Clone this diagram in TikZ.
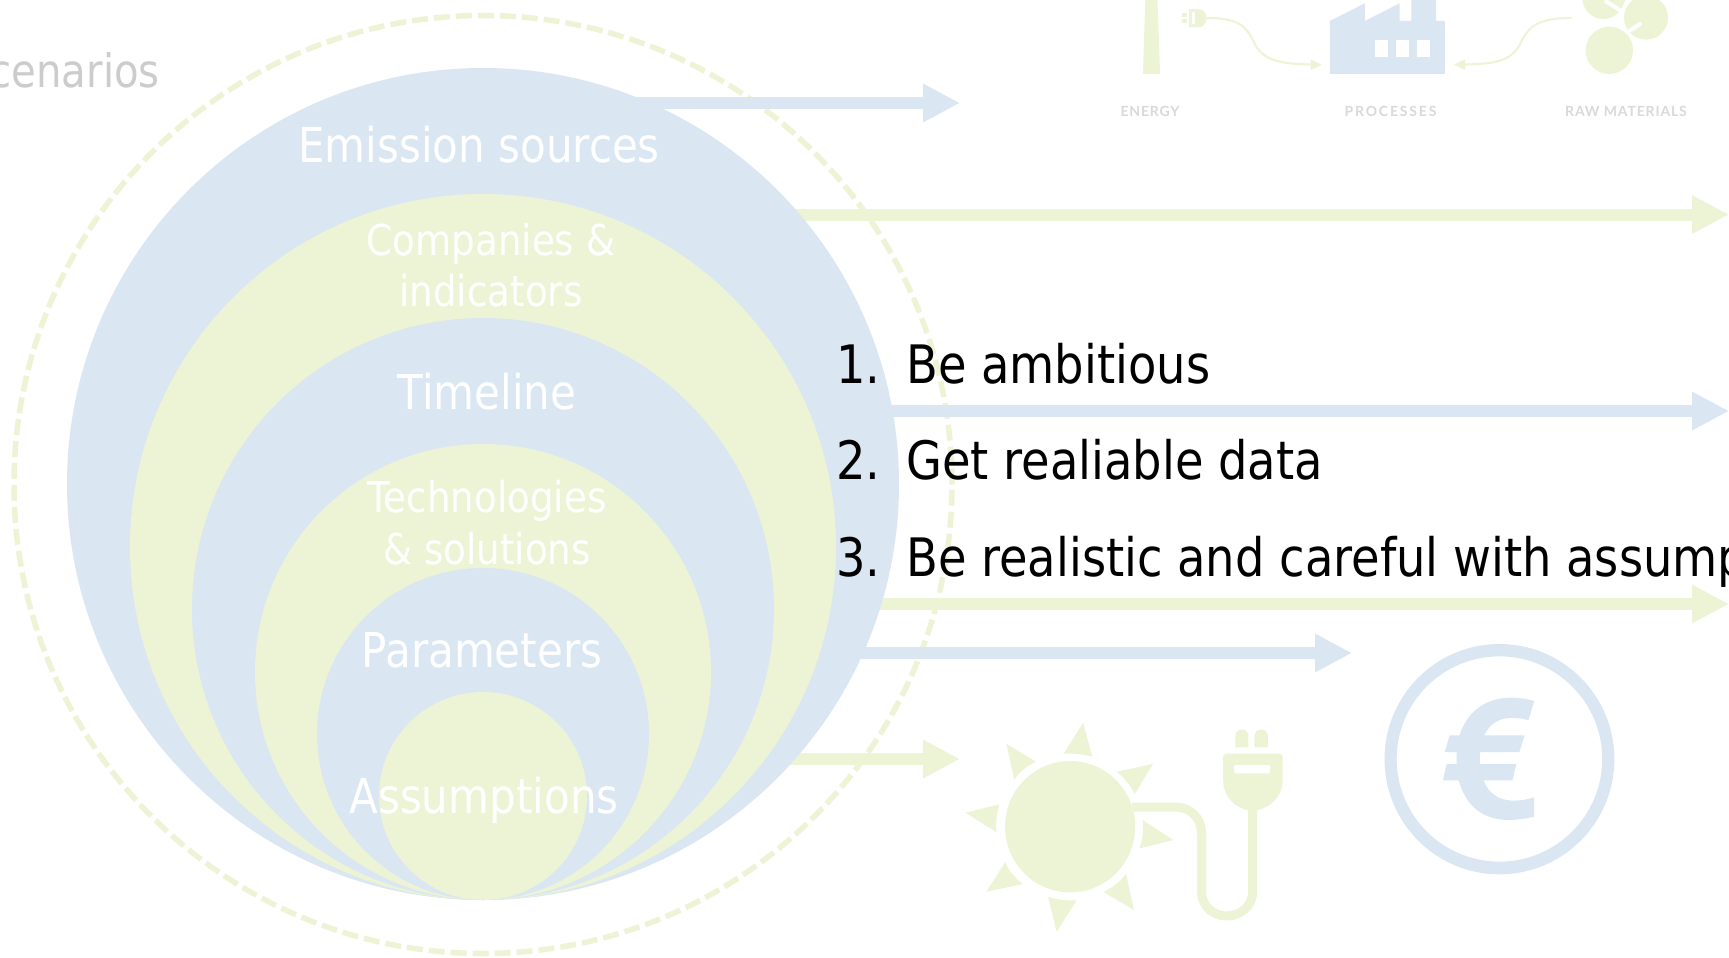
\documentclass[tikz,border=0pt]{standalone}
\usepackage{fontspec}
\usetikzlibrary{arrows.meta}
\newfontfamily\tah[FakeStretch=0.875]{DejaVu Sans}
\newfontfamily\icolab[LetterSpace=6]{Lato Bold}
\newfontfamily\icolabw[LetterSpace=13]{Lato Bold}
\definecolor{bluc}{HTML}{DAE6F2}
\definecolor{grec}{HTML}{EDF4D5}
\tikzset{
  disc/.style={circle,inner sep=0,outer sep=0,minimum size=#1},
  bluearrow/.style={draw=bluc,line width=12pt,-{Triangle[length=37pt,width=36pt]}},
  greenarrow/.style={draw=grec,line width=12pt,-{Triangle[length=37pt,width=36pt]}},
  inlab/.style={anchor=base,inner sep=0,text=white,font=\tah\fontsize{#1}{#1}\selectfont},
  listlab/.style={anchor=base west,inner sep=0,text=black,font=\tah\fontsize{53}{53}\selectfont},
  icolabel/.style={anchor=base,inner sep=0,text=black!15,font=\icolab\fontsize{14}{14}\selectfont},
  thinline/.style={draw=grec,line width=2pt},
}
\begin{document}
\begin{tikzpicture}[x=1pt,y=-1pt]
\useasboundingbox (0,0) rectangle (1729,958);
\fill[white] (0,0) rectangle (1729,958);
% dashed ring
\node[disc=938pt,draw=grec,line width=5.5pt,dash pattern=on 16pt off 6pt] (ring) at (483,484.5) {};
% arrows
\coordinate (a1s) at (625,103); \coordinate (a1e) at (960,103);
\coordinate (a2s) at (760,214.5); \coordinate (a2e) at (1729,214.5);
\coordinate (a3s) at (860,411); \coordinate (a3e) at (1729,411);
\coordinate (a4s) at (860,604); \coordinate (a4e) at (1729,604);
\coordinate (a5s) at (840,653); \coordinate (a5e) at (1352,653);
\coordinate (a6s) at (770,759); \coordinate (a6e) at (960,759);
\draw[bluearrow] (a1s) -- (a1e);
\draw[greenarrow] (a2s) -- (a2e);
\draw[bluearrow] (a3s) -- (a3e);
\draw[greenarrow] (a4s) -- (a4e);
\draw[bluearrow] (a5s) -- (a5e);
\draw[greenarrow] (a6s) -- (a6e);
% nested circles
\node[disc=832pt,fill=bluc] (c1) at (483,484) {};
\node[disc=706pt,fill=grec] (c2) at (483,547) {};
\node[disc=582pt,fill=bluc] (c3) at (483,609) {};
\node[disc=456pt,fill=grec] (c4) at (483,672) {};
\node[disc=332pt,fill=bluc] (c5) at (483,734) {};
\node[disc=208pt,fill=grec] (c6) at (483,796) {};
% circle labels
\node[inlab=48] (t1) at (479,162) {Emission sources};
\node[inlab=42.5] (t2a) at (491,255) {Companies \&};
\node[inlab=42.5] (t2b) at (491,306) {indicators};
\node[inlab=48] (t3) at (487,409) {Timeline};
\node[inlab=42.5] (t4a) at (487,512) {Technologies};
\node[inlab=42.5] (t4b) at (487,564) {\& solutions};
\node[inlab=48] (t5) at (482,667) {Parameters};
\node[inlab=48] (t6) at (484,813) {Assumptions};
% scenarios
\node[anchor=base east,inner sep=0,text=black!20,font=\tah\fontsize{46}{46}\selectfont] (scen) at (160,88) {cenarios};
% list
\node[listlab] (n1) at (836,383) {1.};
\node[listlab] (n2) at (836,479) {2.};
\node[listlab] (n3) at (836,576) {3.};
\node[listlab] (l1) at (906,383) {Be ambitious};
\node[listlab] (l2) at (906,479) {Get realiable data};
\node[listlab] (l3) at (906,576) {Be realistic and careful with assump};
% sun and euro icons
\begin{scope}[shift={(950,630)},xscale=0.43365,yscale=0.33333]
  \draw[grec,line width=9pt,line join=round] (420,531) -- (520,531) .. controls (555,531) and (580,565) .. (580,610) -- (580,785) .. controls (580,825) and (605,858) .. (638,858) .. controls (672,858) and (698,825) .. (698,785) -- (698,530);
  \fill[grec] (277,590) circle[x radius=150,y radius=197];
  \fill[grec] (307,278) -- (328,380) .. controls (305,372) and (285,370) .. (262,371) -- cycle;
  \fill[grec] (468,402) -- (426,492) .. controls (415,465) and (402,443) .. (384,425) -- cycle;
  \fill[grec] (515,630) -- (437,655) .. controls (445,625) and (447,600) .. (444,570) -- cycle;
  \fill[grec] (424,840) -- (354,786) .. controls (375,772) and (393,755) .. (406,732) -- cycle;
  \fill[grec] (246,905) -- (226,801) .. controls (250,810) and (270,812) .. (292,811) -- cycle;
  \fill[grec] (84,785) -- (127,697) .. controls (137,725) and (150,745) .. (168,762) -- cycle;
  \fill[grec] (36,548) -- (114,523) .. controls (107,550) and (105,580) .. (107,607) -- cycle;
  \fill[grec] (130,341) -- (198,395) .. controls (178,408) and (160,425) .. (148,449) -- cycle;
  \fill[grec] (638,371) -- (758,371) .. controls (764,371) and (767,375) .. (767,380) -- (767,455) .. controls (767,500) and (735,540) .. (697,542) .. controls (660,540) and (630,500) .. (630,455) -- (630,380) .. controls (630,375) and (633,371) .. (638,371) -- cycle;
  \fill[white,rounded corners=2pt] (655,405) rectangle (738,430);
  \fill[grec] (658,352) -- (658,318) .. controls (658,292) and (688,292) .. (688,318) -- (688,352) -- cycle;
  \fill[grec] (702,352) -- (702,318) .. controls (702,292) and (733,292) .. (733,318) -- (733,352) -- cycle;
  \fill[bluc,even odd rule] (1267,387.5) circle[x radius=265,y radius=345.5] (1267,387) circle[x radius=237,y radius=308];
  \fill[bluc] (1347,213) -- (1334,270) .. controls (1285,255) and (1250,265) .. (1232,316) -- (1325,316) -- (1313,366) -- (1222,366) -- (1222,402) -- (1306,402) -- (1297,451) -- (1230,451) .. controls (1250,515) and (1295,522) .. (1347,502) -- (1347,560) .. controls (1250,590) and (1195,550) .. (1173,451) -- (1137,451) -- (1145,402) -- (1168,402) -- (1168,366) -- (1141,366) -- (1152,316) -- (1175,316) .. controls (1200,215) and (1270,185) .. (1347,213) -- cycle;
\end{scope}
% top icons
\begin{scope}[shift={(1100,0)},xscale=0.40112,yscale=0.33333]
  \fill[grec] (107,222) -- (150,222) -- (143,0) -- (113,0) -- cycle;
  \fill[grec] (222,27) -- (245,27) .. controls (258,27) and (265,40) .. (265,54) .. controls (265,70) and (258,82) .. (245,82) -- (222,82) -- cycle;
  \fill[white] (230,35) rectangle (237,72);
  \fill[grec] (204,40) rectangle (217,50);
  \fill[grec] (204,58) rectangle (217,70);
  \draw[thinline] (265,54) .. controls (350,54) and (365,80) .. (385,130) .. controls (405,180) and (450,193) .. (525,193);
  \fill[grec] (525,178) -- (553,194) -- (525,210) -- cycle;
  \draw[thinline] (1176,54) .. controls (1090,54) and (1070,80) .. (1050,125) .. controls (1030,180) and (990,193) .. (910,193);
  \fill[grec] (910,178) -- (882,194) -- (910,210) -- cycle;
  \fill[bluc] (573,222) -- (573,63) -- (660,10) -- (660,63) -- (747,10) -- (747,63) -- (776,63) -- (776,0) -- (838,0) -- (838,63) -- (860,63) -- (860,222) -- cycle;
  \fill[white] (686,120) rectangle (718,171);
  \fill[white] (738,120) rectangle (770,171);
  \fill[white] (790,120) rectangle (823,171);
\end{scope}
\begin{scope}[shift={(1560,0)},scale=0.33333]
  \fill[grec] (130,-6) circle[radius=63];
  \fill[grec] (160,-2) -- (197,-2) -- (190,14) -- (175,8) -- cycle;
  \draw[white,line width=4pt] (135,2) -- (182,32);
  \fill[grec] (258,53) circle[radius=66];
  \draw[white,line width=4pt,line cap=round] (200,98) -- (240,72);
  \fill[grec] (148,151) circle[radius=71];
\end{scope}
\node[icolabel] (e1) at (1150,116) {ENERGY};
\node[icolabel,font=\icolabw\fontsize{14}{14}\selectfont] (e2) at (1390.5,116) {PROCESSES};
\node[icolabel] (e3) at (1626,116) {RAW MATERIALS};
\end{tikzpicture}
\end{document}
